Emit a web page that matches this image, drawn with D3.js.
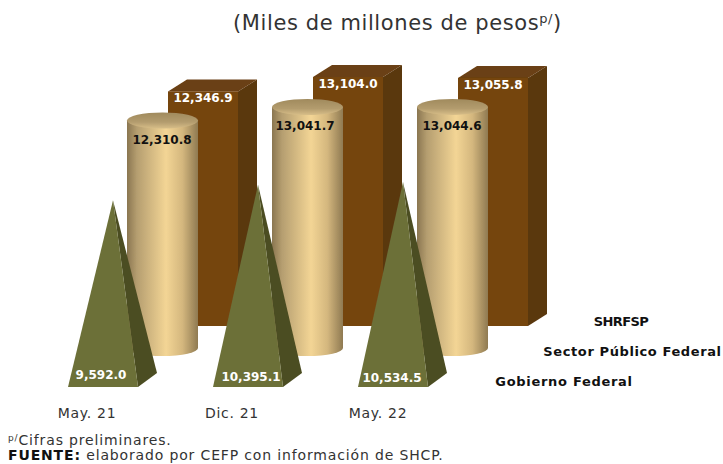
<!DOCTYPE html>
<html><head><meta charset="utf-8">
<script src="https://cdn.jsdelivr.net/npm/d3@7"></script>
<style>html,body{margin:0;padding:0;background:#fff}svg{display:block}text{font-family:"DejaVu Sans",sans-serif}</style>
</head><body><svg id="c" width="723" height="464"></svg>
<script>
const categories = ["May. 21","Dic. 21","May. 22"];
const shrfsp = [12346.9,13104.0,13055.8];
const sectorPublico = [12310.8,13041.7,13044.6];
const gobierno = [9592.0,10395.1,10534.5];
const seriesNames = ["SHRFSP","Sector Público Federal","Gobierno Federal"];
const title = "(Miles de millones de pesos";
const fmt = d3.format(",.1f");

const svg = d3.select("#c");
const defs = svg.append("defs");
const grad = (id,stops,x2,y2)=>{const g=defs.append("linearGradient").attr("id",id).attr("x1",0).attr("y1",0).attr("x2",x2).attr("y2",y2);
  stops.forEach(s=>g.append("stop").attr("offset",s[0]).attr("stop-color",s[1]));};
grad("cyl",[[0,"#8a7650"],[.14,"#b59e70"],[.55,"#f3d595"],[.78,"#d4b77e"],[1,"#8f7a52"]],1,0);
grad("cylTop",[[0,"#a08a5d"],[.6,"#b39c6e"],[1,"#d8be88"]],0,1);
defs.append("filter").attr("id","soft").append("feGaussianBlur").attr("stdDeviation",0.35);

const x = d3.scalePoint().domain(categories).range([0,290]);
const yBox = d3.scaleLinear().domain([0,13104]).range([326,77]);
const yCyl = d3.scaleLinear().domain([0,13041.7]).range([348,107]);
const yPyr = d3.scaleLinear().domain([0,10534.5]).range([387,182]);
const root = svg.append("g").attr("filter","url(#soft)");

const bw=70,bdx=19,bdy=12;
categories.forEach((c,i)=>{
  const l=168+x(c), t=yBox(shrfsp[i]), b=yBox(0), r=l+bw;
  root.append("polygon").attr("points",[[l,t],[l+bdx,t-bdy],[r+bdx,t-bdy],[r,t]].join(" ")).attr("fill","#6b3f12");
  root.append("polygon").attr("points",[[r,t],[r+bdx,t-bdy],[r+bdx,b-bdy],[r,b]].join(" ")).attr("fill","#5a3711");
  root.append("rect").attr("x",l).attr("y",t).attr("width",bw).attr("height",b-t).attr("fill","#754411");
});
const cw=71,ry=8;
categories.forEach((c,i)=>{
  const l=127+x(c), t=yCyl(sectorPublico[i]), b=yCyl(0), rx=cw/2, r=l+cw;
  root.append("path").attr("d",`M${l},${t}L${l},${b}A${rx},${ry} 0 0 0 ${r},${b}L${r},${t}Z`).attr("fill","url(#cyl)");
  root.append("ellipse").attr("cx",l+rx).attr("cy",t).attr("rx",rx).attr("ry",ry).attr("fill","url(#cylTop)");
});
categories.forEach((c,i)=>{
  const l=68+x(c), r=l+70, b=yPyr(0), ax=l+45, ay=yPyr(gobierno[i]);
  root.append("polygon").attr("points",[[r,b],[r+19,b-14],[ax,ay]].join(" ")).attr("fill","#4c4d22");
  root.append("polygon").attr("points",[[l,b],[r,b],[ax,ay]].join(" ")).attr("fill","#6c7038");
});

const label=(tx,ty,t,fill,size,weight,anchor,extra)=>svg.append("text").attr("x",tx).attr("y",ty).attr("fill",fill)
  .attr("font-size",size).attr("font-weight",weight||400).attr("text-anchor",anchor||"middle").attr("letter-spacing",extra||0).text(t);

categories.forEach((c,i)=>{
  const d=x(c);
  label(203+d,102-(yBox(12346.9)-yBox(shrfsp[i])),fmt(shrfsp[i]),"#fff",12,700,"middle",0);
  label(162+d-[0,2,0][i],144-(yCyl(12310.8)-yCyl(sectorPublico[i])),fmt(sectorPublico[i]),"#111",12,700,"middle",0);
  label(101+d+[0,5,1][i],379+[0,2,3][i],fmt(gobierno[i]),"#fff",12,700,"middle",0);
  label(87+d+[0,0,1][i],418,c,"#333",14,400,"middle",.7);
});
[[621,326,-.6],[632.5,356,.6],[564,386,.7]].forEach((p,i)=>label(p[0],p[1],seriesNames[i],"#111",13,700,"middle",p[2]));

const tt=svg.append("text").attr("x",233).attr("y",30).attr("fill","#333").attr("font-size",21).attr("letter-spacing",.6).text(title);
tt.append("tspan").attr("font-size",13).attr("dy",-7).text("p/");
tt.append("tspan").attr("dy",7).text(")");

const n=svg.append("text").attr("x",8).attr("y",445).attr("fill","#333").attr("font-size",14).attr("letter-spacing",.85);
n.append("tspan").attr("font-size",9).attr("dy",-4).text("p/");
n.append("tspan").attr("dy",4).text("Cifras preliminares.");
const f=svg.append("text").attr("x",8).attr("y",460).attr("fill","#333").attr("font-size",14).attr("letter-spacing",.85);
f.append("tspan").attr("font-weight",700).attr("fill","#111").text("FUENTE:");
f.append("tspan").text(" elaborado por CEFP con información de SHCP.");
</script></body></html>
